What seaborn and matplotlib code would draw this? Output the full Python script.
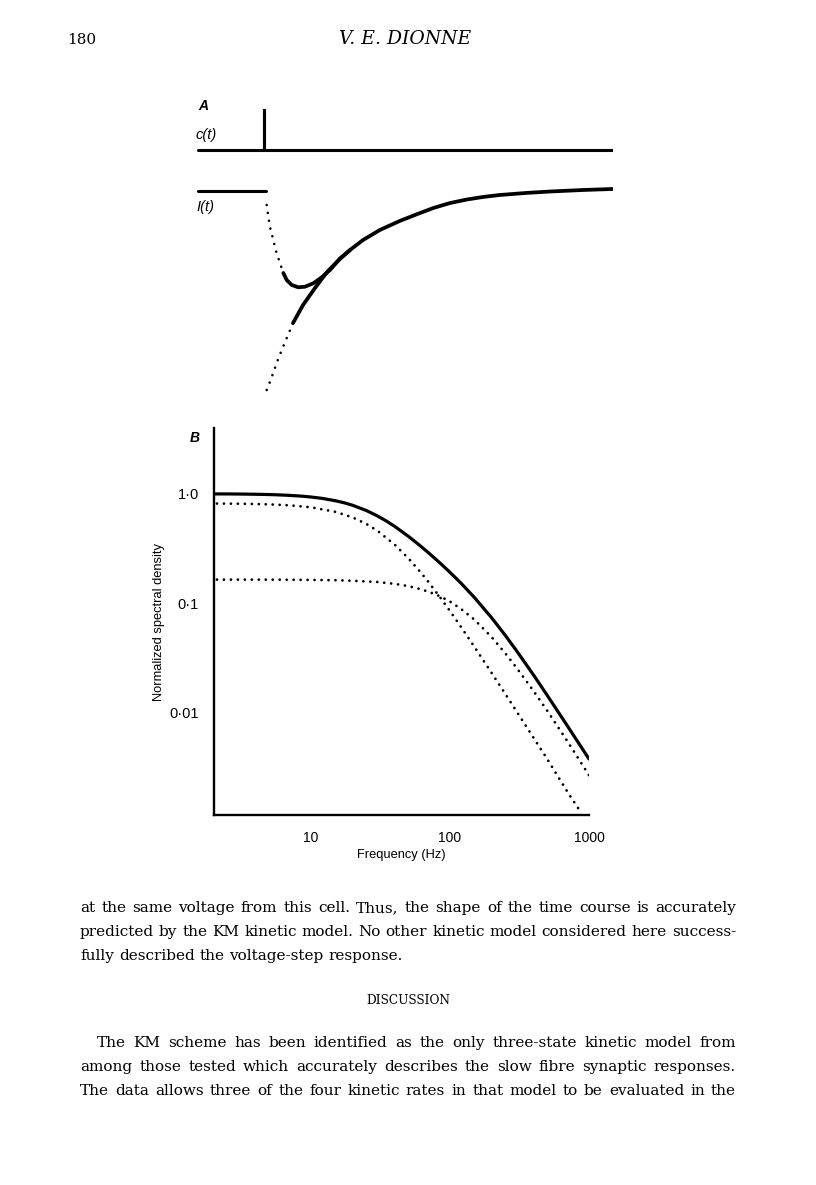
import matplotlib.pyplot as plt
import matplotlib.ticker as mticker
import seaborn as sns

# ---- panel A: concentration pulse c(t) and current response I(t) (arbitrary units) ----
c_time = [-6.9, -0.2, -0.2, -0.2, 35.0]
c_value = [0.0, 0.0, 0.40, 0.0, 0.0]

i_base_time = [-6.9, 0.0]
i_base_value = [0.0, 0.0]

# response with the dip: steep (dotted) start, then solid
dip_dot_time = [0.07, 0.23, 0.40, 0.61, 0.81, 1.01, 1.24, 1.48, 1.75]
dip_dot_value = [-0.14, -0.25, -0.36, -0.44, -0.52, -0.60, -0.67, -0.74, -0.82]
dip_time = [1.75, 2.09, 2.6, 3.26, 3.94, 4.78, 5.63, 6.46, 7.47, 8.5]
dip_value = [-0.82, -0.89, -0.94, -0.963, -0.957, -0.923, -0.863, -0.79, -0.675, -0.59]

# single exponential decay
decay_dot_time = [0.07, 0.47, 0.9, 1.3, 1.72, 2.22, 2.73]
decay_dot_value = [-1.99, -1.89, -1.77, -1.66, -1.56, -1.44, -1.32]
decay_time = [2.73, 3.74, 4.95, 6.16, 7.47, 8.48, 9.8, 11.5, 13.5, 15.3, 16.9, 18.6, 20.3, 21.9, 23.6,
              26.2, 28.7, 32.0, 35.0]
decay_value = [-1.32, -1.14, -0.97, -0.81, -0.68, -0.59, -0.49, -0.39, -0.30, -0.23, -0.17, -0.12, -0.085,
               -0.06, -0.04, -0.02, -0.005, 0.01, 0.02]

# ---- panel B: normalized spectral density ----
freq_total = [2, 2.5, 3, 4, 5, 6, 7, 8.5, 10, 12, 15, 17.5, 20, 25, 30, 35, 40, 50, 60, 70, 85, 100, 120,
              150, 200, 250, 300, 400, 500, 700, 1000]
dens_total = [1.0, 1.0, 0.998, 0.993, 0.987, 0.979, 0.970, 0.955, 0.937, 0.911, 0.866, 0.827, 0.786, 0.705,
              0.630, 0.563, 0.505, 0.411, 0.342, 0.290, 0.233, 0.192, 0.153, 0.113, 0.0735, 0.051, 0.0372,
              0.0221, 0.0145, 0.0076, 0.0038]

freq_slow = [2.1, 3, 4, 5, 7, 10, 15, 20, 25, 30, 40, 50, 60, 70, 85, 100, 120, 150, 200, 250, 300, 400, 500, 700, 870]
dens_slow = [0.817, 0.814, 0.809, 0.803, 0.787, 0.755, 0.686, 0.609, 0.532, 0.461, 0.344, 0.259, 0.199, 0.157,
             0.113, 0.085, 0.061, 0.040, 0.023, 0.0149, 0.0104, 0.0059, 0.0038, 0.0019, 0.00125]

freq_fast = [2.1, 5, 10, 15, 20, 30, 40, 50, 60, 70, 85, 100, 120, 150, 200, 250, 300, 400, 500, 700, 1000]
dens_fast = [0.165, 0.165, 0.164, 0.163, 0.161, 0.157, 0.151, 0.144, 0.136, 0.128, 0.116, 0.104, 0.089, 0.071,
             0.049, 0.035, 0.026, 0.0158, 0.0105, 0.0055, 0.0027]

y_ticks = [0.01, 0.1, 1.0]
y_tick_labels = ['0·01', '0·1', '1·0']
x_ticks = [10, 100, 1000]
x_tick_labels = ['10', '100', '1000']
x_minor = [2, 3, 4, 5, 6, 7, 8, 9, 20, 30, 40, 50, 60, 70, 80, 90, 200, 300, 400, 500, 600, 700, 800, 900]

body_lines = [
    "at the same voltage from this cell. Thus, the shape of the time course is accurately",
    "predicted by the KM kinetic model. No other kinetic model considered here success-",
    "fully described the voltage-step response.",
]
body_lines2 = [
    "The KM scheme has been identified as the only three-state kinetic model from",
    "among those tested which accurately describes the slow fibre synaptic responses.",
    "The data allows three of the four kinetic rates in that model to be evaluated in the",
]

sns.set_style('white', {'axes.edgecolor': 'black', 'text.color': 'black', 'axes.labelcolor': 'black',
                        'xtick.color': 'black', 'ytick.color': 'black'})
plt.rcParams['font.family'] = ['Liberation Sans', 'DejaVu Sans']

W, H = 816, 1185
fig = plt.figure(figsize=(W / 100, H / 100), dpi=100)


def fx(x):
    return x / W


def fy(y):
    return 1 - y / H


dots_a = dict(color='black', lw=1.9, linestyle=(0, (0.01, 3.0)), dash_capstyle='round',
              estimator=None, sort=False)
solid_a = dict(color='black', lw=2.7, solid_capstyle='round', solid_joinstyle='round',
               estimator=None, sort=False)

# panel A
ax_a = fig.add_axes([fx(197), fy(400), fx(613) - fx(197), fy(100) - fy(400)])
sns.lineplot(x=c_time, y=[v + 0.41 for v in c_value], ax=ax_a, color='black', lw=2.2,
             estimator=None, sort=False)
sns.lineplot(x=i_base_time, y=i_base_value, ax=ax_a, color='black', lw=2.2, estimator=None, sort=False)
sns.lineplot(x=dip_dot_time, y=dip_dot_value, ax=ax_a, **dots_a)
sns.lineplot(x=dip_time, y=dip_value, ax=ax_a, **solid_a)
sns.lineplot(x=decay_dot_time, y=decay_dot_value, ax=ax_a, **dots_a)
sns.lineplot(x=decay_time, y=decay_value, ax=ax_a, **solid_a)
ax_a.set_xlim(-6.97, 35.05)
ax_a.set_ylim(-2.09, 0.91)
ax_a.axis('off')

fig.text(fx(198), fy(106), 'A', fontsize=10, style='italic', weight='bold', va='center')
fig.text(fx(196), fy(135), 'c(t)', fontsize=10.5, style='italic', va='center')
fig.text(fx(196), fy(207), 'I(t)', fontsize=10.5, style='italic', va='center')

# panel B
ax_b = fig.add_axes([fx(214), fy(815), (589 - 214) / W, (815 - 428) / H])
ax_b.set_xscale('log')
ax_b.set_yscale('log')
sns.lineplot(x=freq_total, y=dens_total, ax=ax_b, color='black', lw=2.3, estimator=None, sort=False)
for f, d in [(freq_slow, dens_slow), (freq_fast, dens_fast)]:
    sns.lineplot(x=f, y=d, ax=ax_b, color='black', lw=2.0, linestyle=(0, (0.01, 2.5)),
                 dash_capstyle='round', estimator=None, sort=False)
ax_b.set_xlim(2, 1000)
ax_b.set_ylim(0.00117, 4.0)

ax_b.xaxis.set_major_locator(mticker.FixedLocator(x_ticks))
ax_b.xaxis.set_major_formatter(mticker.FixedFormatter(x_tick_labels))
ax_b.xaxis.set_minor_locator(mticker.FixedLocator(x_minor))
ax_b.xaxis.set_minor_formatter(mticker.NullFormatter())
ax_b.yaxis.set_major_locator(mticker.FixedLocator(y_ticks))
ax_b.yaxis.set_major_formatter(mticker.FixedFormatter(y_tick_labels))
ax_b.yaxis.set_minor_locator(mticker.NullLocator())
ax_b.tick_params(axis='both', which='both', direction='out', width=1.6, labelsize=10)
ax_b.tick_params(axis='y', labelsize=10.5)
ax_b.tick_params(axis='x', which='both', length=5.5, pad=6)
ax_b.tick_params(axis='y', which='major', length=7, pad=4)
for side in ['top', 'right']:
    ax_b.spines[side].set_visible(False)
for side in ['left', 'bottom']:
    ax_b.spines[side].set_linewidth(1.7)

ax_b.set_ylabel('Normalized spectral density', fontsize=9.3)
ax_b.yaxis.set_label_coords((165 - 214) / 375, (815 - 622) / 387)
ax_b.set_xlabel('Frequency (Hz)', fontsize=9.3)
ax_b.xaxis.set_label_coords(0.499, -(849 - 815) / 387)

fig.text(fx(190), fy(438), 'B', fontsize=10, style='italic', weight='bold', va='center')

# page header
serif = 'DejaVu Serif'
fig.text(fx(67), fy(44), '180', fontsize=11, family=serif, va='baseline')
fig.text(fx(405), fy(44), 'V. E. DIONNE', fontsize=13.5, family=serif, style='italic',
         ha='center', va='baseline')

# body text, justified by spreading the words
renderer = fig.canvas.get_renderer()


def measure(s, size):
    t = fig.text(0, 0, s, fontsize=size, family=serif)
    w = t.get_window_extent(renderer).width
    t.remove()
    return w


body_size = 10 * 640 / measure(body_lines[0], 10)
space_w = measure('a a', body_size) - measure('aa', body_size)


def put_line(s, x0, x1, y, justify=True):
    words = s.split(' ')
    arts = [fig.text(0, fy(y), w, fontsize=body_size, family=serif, va='baseline') for w in words]
    widths = [a.get_window_extent(renderer).width for a in arts]
    gap = (x1 - x0 - sum(widths)) / (len(words) - 1) if justify else space_w
    x = x0
    for a, w in zip(arts, widths):
        a.set_x(fx(x))
        x += w + gap


put_line(body_lines[0], 80, 736, 912)
put_line(body_lines[1], 80, 736, 936)
put_line(body_lines[2], 80, 736, 960, justify=False)
fig.text(fx(408), fy(1004), 'DISCUSSION', fontsize=body_size * 0.8, family=serif,
         ha='center', va='baseline')
put_line(body_lines2[0], 97, 736, 1047)
put_line(body_lines2[1], 80, 736, 1071)
put_line(body_lines2[2], 80, 736, 1095)

fig.savefig('out.png', dpi=100)
